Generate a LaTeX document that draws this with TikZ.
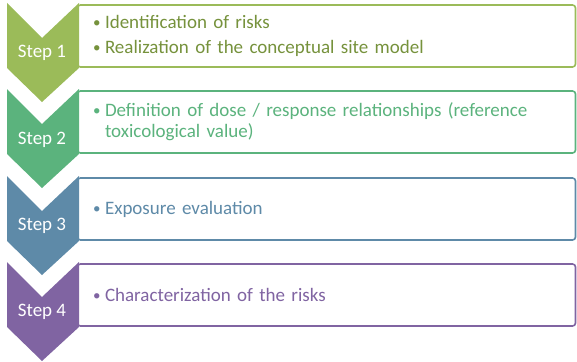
\documentclass[tikz,border=0pt]{standalone}
\usepackage{fontspec}
\setmainfont{Carlito}
\definecolor{stepolive}{RGB}{155, 187, 89}
\definecolor{stepoliveText}{RGB}{118, 146, 60}
\definecolor{stepgreen}{RGB}{91, 179, 125}
\definecolor{stepblue}{RGB}{94, 138, 168}
\definecolor{steppurple}{RGB}{128, 100, 162}
\usetikzlibrary{positioning, calc}
\newcommand{\bitem}[1]{{\hangindent=12pt\hangafter=1\noindent\makebox[12pt][l]{\fontsize{15}{15}\selectfont\raisebox{1pt}{\textbullet}}#1\par}}

\begin{document}
\begin{tikzpicture}[x=1pt, y=-1pt,
  stepbox/.style={draw, rounded corners=3pt, line width=1.6pt, fill=white, minimum width=498pt, minimum height=62pt,
    text width=467pt, align=left, font=\fontsize{19}{21}\selectfont, inner sep=0pt},
  steplabel/.style={text=white, font=\fontsize{19}{21}\selectfont, inner sep=0pt}
]
  \useasboundingbox (0,0) rectangle (577,361);
  % boxes
  \node[stepbox, draw=stepolive, text=stepoliveText] (box1) at (326.5, 36) {\bitem{Identification of risks}\vspace{4pt}\bitem{Realization of the conceptual site model}};
  \node[stepbox, draw=stepgreen, text=stepgreen] (box2) at (326.5, 122) {\bitem{Definition of dose / response relationships (reference\newline toxicological value)}};
  \node[stepbox, draw=stepblue, text=stepblue] (box3) at (326.5, 209) {\bitem{Exposure evaluation}};
  \node[stepbox, draw=steppurple, text=steppurple] (box4) at (326.5, 295) {\bitem{Characterization of the risks}};
  % chevrons
  \foreach \y/\c in {3/stepolive, 89/stepgreen, 176/stepblue, 262/steppurple}
    \fill[\c] (7,\y) -- (42,\y+35) -- (79,\y) -- (79,\y+65) -- (42,\y+99) -- (7,\y+65) -- cycle;
  \node[steplabel] (step1) at (42, 53) {Step 1};
  \node[steplabel] (step2) at (42, 140) {Step 2};
  \node[steplabel] (step3) at (42, 226) {Step 3};
  \node[steplabel] (step4) at (42, 312) {Step 4};
\end{tikzpicture}
\end{document}
